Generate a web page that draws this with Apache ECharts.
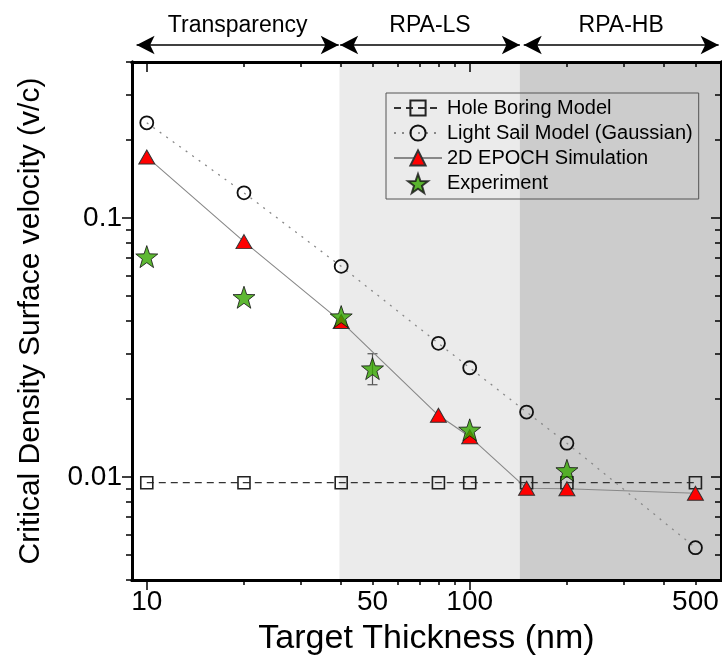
<!DOCTYPE html>
<html><head><meta charset="utf-8">
<script src="https://cdn.jsdelivr.net/npm/echarts@6/dist/echarts.min.js"></script>
<style>html,body{margin:0;padding:0;background:#fff}#c{width:722px;height:662px}</style>
</head><body><div id="c"></div>
<script>
// ---- data ----
const holeX = [10, 20, 40, 80, 100, 150, 200, 500];
const holeBoring = [0.0095, 0.0095, 0.0095, 0.0095, 0.0095, 0.0095, 0.0095, 0.0095];
const sailX = [10, 20, 40, 80, 100, 150, 200, 500];
const lightSail = [0.233, 0.125, 0.065, 0.0328, 0.0264, 0.0178, 0.0135, 0.00533];
const epochX = [10, 20, 40, 80, 100, 150, 200, 500];
const epoch = [0.172, 0.081, 0.0398, 0.0173, 0.0143, 0.00904, 0.0090, 0.00865];
const expX = [10, 20, 40, 50, 100, 200];
const experiment = [0.0709, 0.0494, 0.0416, 0.0262, 0.0152, 0.0106];
const errX = [50];
const errLow = [0.0227];
const errHigh = [0.0299];
const regionNames = ['Transparency', 'RPA-LS', 'RPA-HB'];
const regionStart = [9.3, 39.7, 147];
const regionEnd = [39.3, 143, 590];
const shadeStart = [39.5, 143];
const shadeEnd = [600, 600];
const xMajorTicks = [10, 100];
const xMinorTicks = [20, 30, 40, 50, 60, 70, 80, 90, 200, 300, 400, 500];
const xTickLabels = [10, 50, 100, 500];
const yMajorTicks = [0.01, 0.1];
const yMinorTicks = [0.004, 0.005, 0.006, 0.007, 0.008, 0.009, 0.02, 0.03, 0.04, 0.05, 0.06, 0.07, 0.08, 0.09, 0.2, 0.3, 0.4];
const yTickLabels = [0.01, 0.1];

const X_MIN = 9, X_MAX = 600, Y_MIN = 0.004, Y_MAX = 0.4;
const FONT = 'Liberation Sans';
const fmt = v => String(+(+v).toPrecision(3));
const zip = (xs, ys) => xs.map((x, i) => [x, ys[i]]);

function xAx(position, ticks, len, inside, labels, extra) {
  return Object.assign({
    type: 'log', logBase: 10, min: X_MIN, max: X_MAX, position, gridIndex: 0, z: 4,
    axisLine: { show: true, onZero: false, lineStyle: { color: '#000', width: 3 } },
    axisTick: { show: true, inside, length: len, customValues: ticks, lineStyle: { color: '#000', width: 1.5 } },
    axisLabel: labels ? { show: true, customValues: labels, formatter: fmt, fontFamily: FONT, fontSize: 28, color: '#000', margin: 8 } : { show: false },
    splitLine: { show: false }, minorTick: { show: false }
  }, extra || {});
}
function yAx(position, ticks, len, inside, labels, extra) {
  return Object.assign({
    type: 'log', logBase: 10, min: Y_MIN, max: Y_MAX, position, gridIndex: 0, z: 4,
    axisLine: { show: true, onZero: false, lineStyle: { color: '#000', width: 3 } },
    axisTick: { show: true, inside, length: len, customValues: ticks, lineStyle: { color: '#000', width: 1.5 } },
    axisLabel: labels ? { show: true, customValues: labels, formatter: fmt, fontFamily: FONT, fontSize: 28, color: '#000', margin: 10 } : { show: false },
    splitLine: { show: false }, minorTick: { show: false }
  }, extra || {});
}

const chart = echarts.init(document.getElementById('c'), null, { renderer: 'canvas' });
chart.setOption({
  animation: false,
  backgroundColor: '#fff',
  grid: [
    { left: 132, right: 1, top: 62, bottom: 82, outerBoundsMode: 'none', containLabel: false },
    { left: 132, right: 1, top: 0, height: 60, outerBoundsMode: 'none', containLabel: false }
  ],
  xAxis: [
    xAx('bottom', xMajorTicks, 10, false, xTickLabels, {
      name: 'Target Thickness (nm)', nameLocation: 'middle', nameGap: 42,
      nameTextStyle: { fontFamily: FONT, fontSize: 34, color: '#000' }
    }),
    xAx('bottom', xMinorTicks, 5, false, null),
    xAx('top', xMajorTicks, 10, true, null),
    xAx('top', xMinorTicks, 5, true, null),
    { type: 'log', logBase: 10, min: X_MIN, max: X_MAX, gridIndex: 1, show: false }
  ],
  yAxis: [
    yAx('left', yMajorTicks, 10, false, yTickLabels, {
      name: 'Critical Density Surface velocity (v/c)', nameLocation: 'middle', nameGap: 86,
      nameTextStyle: { fontFamily: FONT, fontSize: 30, color: '#000' }
    }),
    yAx('left', yMinorTicks, 6, false, null),
    yAx('right', yMajorTicks, 10, true, null),
    yAx('right', yMinorTicks, 6, true, null),
    { type: 'value', min: 0, max: 1, gridIndex: 1, show: false }
  ],
  legend: {
    orient: 'vertical', left: 386, top: 93,
    padding: [5, 6, 5, 7], itemGap: 5, itemWidth: 48, itemHeight: 19,
    borderColor: '#555', borderWidth: 1, backgroundColor: 'transparent',
    textStyle: { fontFamily: FONT, fontSize: 20, color: '#000', lineHeight: 20 },
    data: ['Hole Boring Model', 'Light Sail Model (Gaussian)', '2D EPOCH Simulation', 'Experiment']
  },
  series: [
    {
      name: 'Hole Boring Model', type: 'line', xAxisIndex: 0, yAxisIndex: 0,
      data: zip(holeX, holeBoring), symbol: 'rect', symbolSize: 12,
      itemStyle: { color: 'rgba(0,0,0,0)', borderColor: '#222', borderWidth: 1.6 },
      lineStyle: { color: '#333', width: 1.2, type: [7, 5] }, z: 3,
      markArea: {
        silent: true,
        data: shadeStart.map((s, i) => [
          { xAxis: s, itemStyle: { color: i === 0 ? '#ebebeb' : '#cccccc' } },
          { xAxis: shadeEnd[i] }
        ])
      }
    },
    {
      name: 'Light Sail Model (Gaussian)', type: 'line', xAxisIndex: 0, yAxisIndex: 0,
      data: zip(sailX, lightSail), symbol: 'circle', symbolSize: 13,
      itemStyle: { color: 'rgba(0,0,0,0)', borderColor: '#111', borderWidth: 1.8 },
      lineStyle: { color: '#888', width: 1.3, type: [2, 6] }, z: 3
    },
    {
      name: '2D EPOCH Simulation', type: 'line', xAxisIndex: 0, yAxisIndex: 0,
      data: zip(epochX, epoch), symbol: 'triangle', symbolSize: [16, 14],
      itemStyle: { color: '#ff0000', borderColor: '#333', borderWidth: 1 },
      lineStyle: { color: '#888', width: 1.1 }, z: 3
    },
    {
      name: 'errorbar', type: 'custom', xAxisIndex: 0, yAxisIndex: 0, z: 3,
      data: errX.map((x, i) => [x, errLow[i], errHigh[i]]),
      encode: { x: 0, y: [1, 2] },
      renderItem(params, api) {
        const lo = api.coord([api.value(0), api.value(1)]);
        const hi = api.coord([api.value(0), api.value(2)]);
        const w = 5, st = { stroke: '#555', lineWidth: 1.2 };
        return { type: 'group', children: [
          { type: 'line', shape: { x1: lo[0], y1: lo[1], x2: hi[0], y2: hi[1] }, style: st },
          { type: 'line', shape: { x1: lo[0] - w, y1: lo[1], x2: lo[0] + w, y2: lo[1] }, style: st },
          { type: 'line', shape: { x1: hi[0] - w, y1: hi[1], x2: hi[0] + w, y2: hi[1] }, style: st }
        ] };
      }
    },
    {
      name: 'Experiment', type: 'scatter', xAxisIndex: 0, yAxisIndex: 0,
      data: zip(expX, experiment), symbol: 'path://M0,-10L2.35,-3.24L9.51,-3.09L3.8,1.24L5.88,8.09L0,4L-5.88,8.09L-3.8,1.24L-9.51,-3.09L-2.35,-3.24Z',
      symbolSize: 22,
      itemStyle: { color: '#36a600', borderColor: '#111', borderWidth: 1 }, z: 5
    },
    {
      name: 'regions', type: 'line', xAxisIndex: 4, yAxisIndex: 4, data: [], z: 5,
      markLine: {
        silent: true, symbol: ['arrow', 'arrow'], symbolSize: [14, 18],
        lineStyle: { color: '#000', width: 1.6, type: 'solid' },
        label: { show: true, position: 'insideMiddleTop', distance: 8, formatter: '{b}', fontFamily: FONT, fontSize: 23, color: '#000' },
        data: regionNames.map((n, i) => [
          { coord: [regionStart[i], 0.25], name: n },
          { coord: [regionEnd[i], 0.25] }
        ])
      }
    }
  ]
});
</script>
</body></html>
